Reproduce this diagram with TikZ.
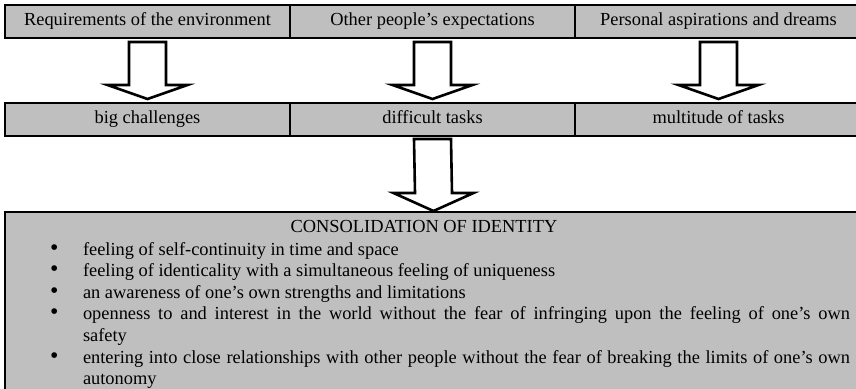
\documentclass[tikz,border=0pt]{standalone}
\usepackage{fontspec}
\usepackage{graphicx}
\setmainfont{Liberation Serif}
\usetikzlibrary{calc}
\definecolor{boxgray}{RGB}{191,191,191}
\newcommand{\bul}{\noindent\llap{\smash{\scalebox{1.3}{\textbullet}}\hspace{24.5pt}}}
\begin{document}
\begin{tikzpicture}[x=1pt,y=-1pt,
  cell/.style={draw=black, fill=boxgray, line width=2.7pt, inner sep=0pt, outer sep=0pt,
    minimum height=33pt, text height=12.5pt, text depth=4pt, font=\fontsize{18.4}{21.6}\selectfont},
  blockarr/.style={draw=black, fill=white, line width=2.6pt, line join=miter},
  bigbox/.style={draw=black, fill=boxgray, line width=2.7pt, inner sep=0pt, outer sep=0pt},
  plaintext/.style={inner sep=0pt, outer sep=0pt, font=\fontsize{18.4}{21.6}\selectfont}]
\useasboundingbox (0,0) rectangle (856,388);
\clip (0,0) rectangle (856,388);
% block arrow: #1 from node, #2 to node, #3 gap below source, #4 gap above target, #5 head length
\newcommand{\bigarrow}[5]{%
  \draw[blockarr] ($(#1.south)+(-18.5,#3)$) -- ($(#1.south)+(18.5,#3)$)
    -- ($(#2.north)+(18.5,-#4-#5)$) -- ($(#2.north)+(40,-#4-#5)$)
    -- ($(#2.north)+(0,-#4)$)
    -- ($(#2.north)+(-40,-#4-#5)$) -- ($(#2.north)+(-18.5,-#4-#5)$) -- cycle;}
% top row
\node[cell, minimum width=285pt] (env) at (147.5,21.5) {Requirements of the environment};
\node[cell, minimum width=285pt] (oth) at (432.5,21.5) {Other people’s expectations};
\node[cell, minimum width=287pt] (per) at (718.5,21.5) {Personal aspirations and dreams};
% second row
\node[cell, minimum width=285pt] (big) at (147.5,119.5) {big challenges};
\node[cell, minimum width=285pt] (dif) at (432.5,119.5) {difficult tasks};
\node[cell, minimum width=287pt] (mul) at (718.5,119.5) {multitude of tasks};
% big box
\node[bigbox, minimum width=857pt, minimum height=190pt, anchor=north west] (ident) at (5,212) {};
\node[plaintext, anchor=base] (title) at (424,232) {CONSOLIDATION OF IDENTITY};
\node[plaintext, anchor=base west, text width=767pt, align=justify] (items) at (83,255) {%
\hyphenpenalty=10000
\bul feeling of self-continuity in time and space\par
\bul feeling of identicality with a simultaneous feeling of uniqueness\par
\bul an awareness of one’s own strengths and limitations\par
\bul openness to and interest in the world without the fear of infringing upon the feeling of one’s own\linebreak safety\par
\bul entering into close relationships with other people without the fear of breaking the limits of one’s own\linebreak autonomy\par};
% arrows
\bigarrow{env}{big}{4}{4}{14}
\bigarrow{oth}{dif}{4}{4}{14}
\bigarrow{per}{mul}{4}{4}{14}
\bigarrow{dif}{ident}{3}{1}{18}
\end{tikzpicture}
\end{document}
